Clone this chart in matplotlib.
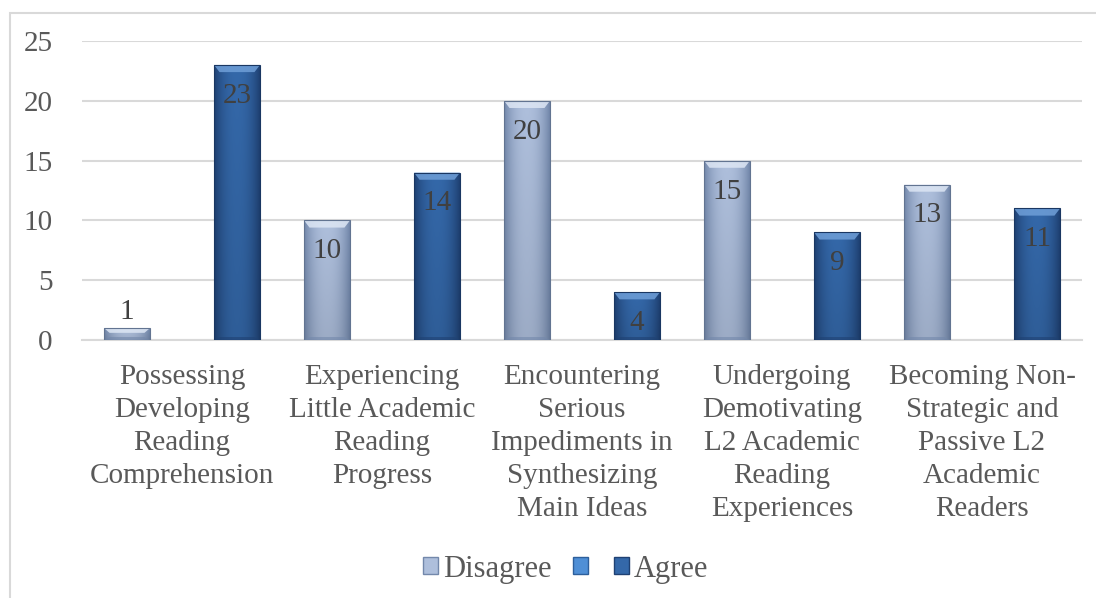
import numpy as np
import matplotlib
matplotlib.use('Agg')
import matplotlib.pyplot as plt
from matplotlib.patches import Patch, Polygon, Rectangle
from matplotlib.colors import to_rgb

categories = ['Possessing\nDeveloping\nReading\nComprehension',
              'Experiencing\nLittle Academic\nReading\nProgress',
              'Encountering\nSerious\nImpediments in\nSynthesizing\nMain Ideas',
              'Undergoing\nDemotivating\nL2 Academic\nReading\nExperiences',
              'Becoming Non-\nStrategic and\nPassive L2\nAcademic\nReaders']
disagree = [1, 10, 20, 15, 13]
agree = [23, 14, 4, 9, 11]
yticks = [0, 5, 10, 15, 20, 25]

TEXT_COLOR = '#595959'
GRID_COLOR = '#d9d9d9'
# (edge, centre, bevel) colours
DIS_COLORS = ('#7388ab', '#aebfdc', '#dde6f4')
AGR_COLORS = ('#1f4173', '#3468a9', '#6f9fd8')
MID_COLOR = '#4f8fd6'
FS = 21

plt.rcParams['font.family'] = ['Liberation Serif', 'DejaVu Serif']

fig = plt.figure(figsize=(10.96, 5.98), dpi=100)
ax = fig.add_axes([82 / 1096, 1 - 340 / 598, 1000 / 1096, 299 / 598])

# outer chart frame
fig.patches.append(Rectangle((9.5 / 1096, -0.05), 1.2, 1 - 12.5 / 598 + 0.05,
                             transform=fig.transFigure, fill=False,
                             edgecolor=GRID_COLOR, linewidth=1.5))


def shaded_bar(ax, x, h, width, colors):
    edge, centre, bevel = [np.array(to_rgb(c)) for c in colors]
    patch = ax.bar(x, h, width=width, color='none', edgecolor='none', zorder=3)[0]
    n = 64
    t = np.linspace(-1, 1, n)
    w = np.abs(t) ** 2.2
    row = centre[None, :] * (1 - w[:, None]) + edge[None, :] * w[:, None]
    img = np.tile(row[None, :, :], (32, 1, 1))
    shade = np.linspace(1.0, 0.9, 32)[:, None, None]
    img = np.clip(img * shade, 0, 1)
    im = ax.imshow(img, extent=(x - width / 2, x + width / 2, 0, h),
                   aspect='auto', origin='upper', zorder=3, interpolation='bilinear')
    im.set_clip_path(patch)
    # top bevel
    bh = min(0.6, h * 0.4)
    bw = width * 0.12
    ax.add_patch(Polygon([(x - width / 2, h), (x + width / 2, h),
                          (x + width / 2 - bw, h - bh), (x - width / 2 + bw, h - bh)],
                         closed=True, facecolor=bevel, edgecolor='none', alpha=0.85, zorder=4))
    # darker bottom bevel
    ax.add_patch(Polygon([(x - width / 2, 0), (x + width / 2, 0),
                          (x + width / 2 - bw, min(0.25, h * 0.3)),
                          (x - width / 2 + bw, min(0.25, h * 0.3))],
                         closed=True, facecolor=edge, edgecolor='none', alpha=0.6, zorder=4))
    ax.add_patch(Rectangle((x - width / 2, 0), width, h, fill=False,
                           edgecolor=edge * 0.85, linewidth=0.8, zorder=5))
    return patch


x = np.arange(len(categories))
width = 0.23
offset = 0.275
for i in x:
    shaded_bar(ax, i - offset, disagree[i], width, DIS_COLORS)
    shaded_bar(ax, i + offset, agree[i], width, AGR_COLORS)
    # data labels
    if disagree[i] < 3:
        ax.text(i - offset, disagree[i] + 0.25, str(disagree[i]), ha='center', va='bottom',
                fontsize=FS, color='#404040', zorder=6)
    else:
        ax.text(i - offset, disagree[i] - 1.5, str(disagree[i]), ha='center', va='top',
                fontsize=FS, color='#404040', zorder=6)
    ax.text(i + offset, agree[i] - 1.5, str(agree[i]), ha='center', va='top',
            fontsize=FS, color='#404040', zorder=6)

ax.set_xlim(-0.5, len(categories) - 0.5)
ax.set_ylim(0, 25)
ax.set_yticks(yticks)
ax.set_xticks(x)
ax.set_xticklabels(categories, linespacing=1.36)
ax.tick_params(axis='both', length=0, labelsize=FS, labelcolor=TEXT_COLOR)
ax.tick_params(axis='y', pad=21)
ax.tick_params(axis='x', pad=17)
ax.grid(axis='y', color=GRID_COLOR, linewidth=1.5, zorder=0)
ax.set_axisbelow(True)
for side in ['top', 'right', 'left']:
    ax.spines[side].set_visible(False)
ax.spines['bottom'].set_color(GRID_COLOR)
ax.spines['bottom'].set_linewidth(1.5)

handles = [Patch(facecolor=DIS_COLORS[1], edgecolor=DIS_COLORS[0]),
           Patch(facecolor=MID_COLOR, edgecolor='#2d5f9c'),
           Patch(facecolor=AGR_COLORS[1], edgecolor=AGR_COLORS[0])]
fig.legend(handles, ['Disagree', '', 'Agree'], loc='center', bbox_to_anchor=(0.516, 1 - 569 / 598),
           ncol=3, frameon=False, fontsize=22, labelcolor=TEXT_COLOR,
           handlelength=0.5, handleheight=0.5, handletextpad=0.15, columnspacing=0.7)

fig.savefig('out.png', dpi=100)
